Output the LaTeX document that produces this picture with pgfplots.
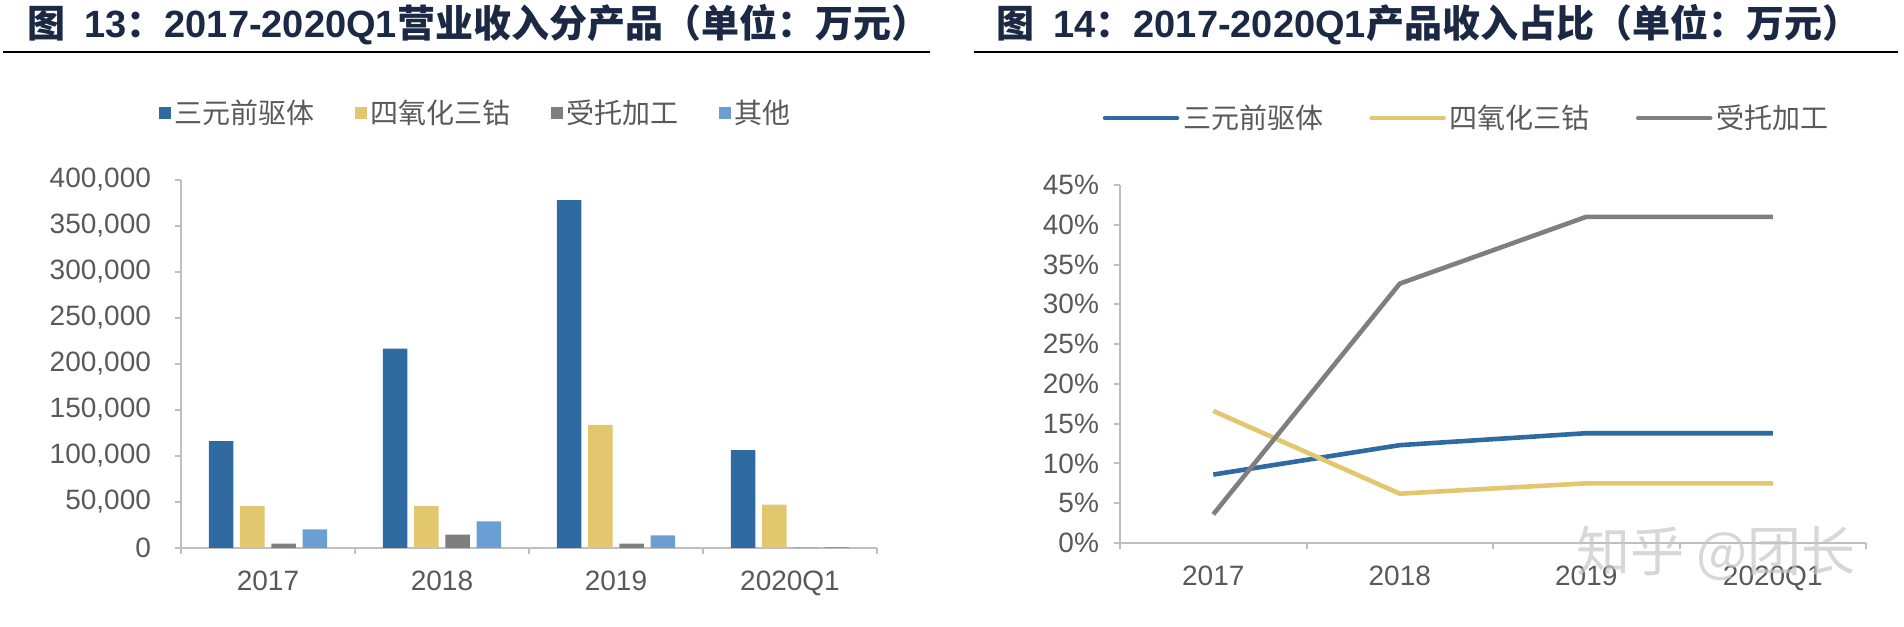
\documentclass[border=0pt]{standalone}
\usepackage{fontspec}
\setmainfont{Liberation Sans}
\newfontfamily\cjk{Noto Sans CJK SC}
\usepackage{pgfplots}
\pgfplotsset{compat=1.18}

\definecolor{cblue}{HTML}{2F6BA0}
\definecolor{cyellow}{HTML}{E2C76F}
\definecolor{cgray}{HTML}{7F7F7F}
\definecolor{clight}{HTML}{6B9FD3}
\definecolor{axisgray}{HTML}{BFBFBF}
\definecolor{textgray}{HTML}{595959}
\definecolor{titlenavy}{HTML}{1B2945}

\pgfplotsset{
  common/.style={
    scale only axis,
    axis lines=left,
    axis line style={-, draw=axisgray, line width=1pt},
    tick align=outside,
    major tick length=3pt,
    minor tick length=3pt,
    tick style={draw=axisgray, line width=1pt},
    major x tick style={draw=none},
    xmin=-0.5, xmax=3.5,
    xtick={0,1,2,3},
    minor xtick={-0.5,0.5,1.5,2.5,3.5},
    xticklabels={2017,2018,2019,2020Q1},
    enlarge x limits=false,
    enlarge y limits=false,
    ymin=0,
    tick label style={font=\fontsize{14pt}{16pt}\selectfont, text=textgray},
    /pgf/number format/assume math mode=true,
    legend style={draw=none, fill=none, font=\fontsize{14pt}{16pt}\selectfont\cjk, text=textgray,
      legend columns=-1, anchor=center},
  },
}

\begin{document}
\begin{tikzpicture}
\path[use as bounding box] (0,0) rectangle (952pt,313pt);

% titles
\node[anchor=base west, text=titlenavy, font=\fontsize{19pt}{22pt}\selectfont\bfseries, inner sep=0]
  at (13.5pt,294pt) {{\cjk 图}\hspace{0.5em}13{\cjk ：}2017-2020Q1{\cjk 营业收入分产品（单位：万元）}};
\draw[line width=1pt, black] (1.5pt,287pt) -- (465pt,287pt);
\node[anchor=base west, text=titlenavy, font=\fontsize{19pt}{22pt}\selectfont\bfseries, inner sep=0]
  at (498pt,294pt) {{\cjk 图}\hspace{0.5em}14{\cjk ：}2017-2020Q1{\cjk 产品收入占比（单位：万元）}};
\draw[line width=1pt, black] (487pt,287pt) -- (949pt,287pt);

% left: revenue by product
\begin{axis}[common,
  at={(90.5pt,39pt)}, anchor=south west,
  width=348pt, height=184pt,
  ybar=3.4pt, bar width=12.25pt,
  ymax=400000,
  ytick={0,50000,...,400000},
  scaled y ticks=false,
  /pgf/number format/fixed,
  /pgf/number format/1000 sep={,},
  xticklabel style={yshift=-5pt},
  yticklabel style={xshift=-8.5pt},
  legend style={at={(0.425,1.182)},
    /tikz/every even column/.append style={column sep=18pt}},
  legend image code/.code={\fill[#1, draw=none] (0pt,-3pt) rectangle (6pt,3pt);},
]
\addplot[fill=cblue, draw=none] coordinates {(0,116200) (1,216700) (2,378200) (3,106400)};
\addplot[fill=cyellow, draw=none] coordinates {(0,45400) (1,45400) (2,133900) (3,47200)};
\addplot[fill=cgray, draw=none] coordinates {(0,4700) (1,14500) (2,4700) (3,300)};
\addplot[fill=clight, draw=none] coordinates {(0,20300) (1,29000) (2,13800) (3,900)};
\legend{三元前驱体,四氧化三钴,受托加工,其他}
\end{axis}

% right: share of revenue
\begin{axis}[common,
  at={(560pt,41.5pt)}, anchor=south west,
  width=373pt, height=179pt,
  ymax=45,
  ytick={0,5,...,45},
  yticklabel={\pgfmathprintnumber{\tick}\%},
  xticklabel style={yshift=-5pt},
  yticklabel style={xshift=-4pt},
  legend style={at={(0.466,1.187)},
    /tikz/every even column/.append style={column sep=21pt}},
  legend image code/.code={\draw[#1, line cap=round] (0pt,0pt) -- (36pt,0pt);},
]
\addplot[cblue, line width=2.3pt] coordinates {(0,8.6) (1,12.3) (2,13.8) (3,13.8)};
\addplot[cyellow, line width=2.3pt] coordinates {(0,16.6) (1,6.2) (2,7.5) (3,7.5)};
\addplot[cgray, line width=2.3pt] coordinates {(0,3.6) (1,32.6) (2,41.0) (3,41.0)};
\legend{三元前驱体,四氧化三钴,受托加工}
\end{axis}

% watermark
\node[text=gray!45, opacity=0.7, font=\fontsize{27pt}{30pt}\selectfont\cjk] at (858pt,36.5pt) {知乎 @团长};
\end{tikzpicture}
\end{document}
